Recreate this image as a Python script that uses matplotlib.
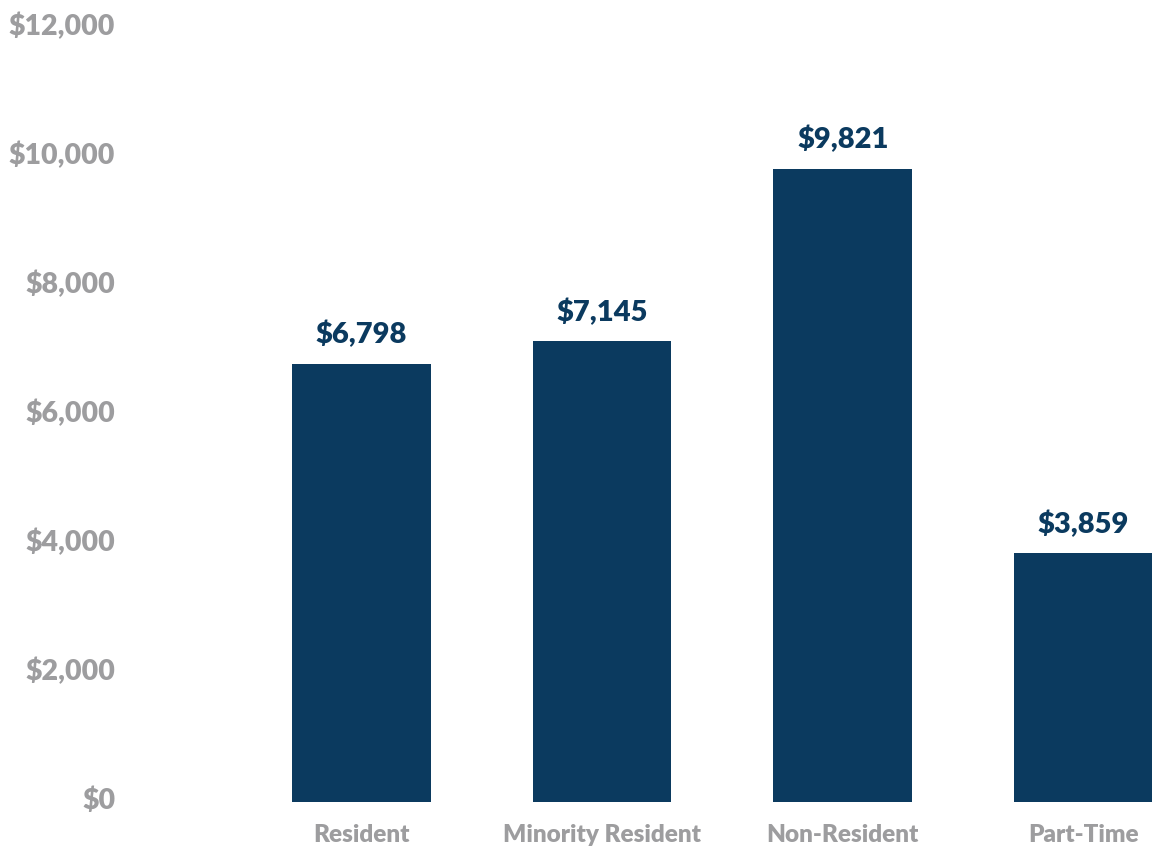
import matplotlib
matplotlib.use("Agg")
import matplotlib.pyplot as plt
import matplotlib.transforms as mtransforms
from matplotlib.ticker import FuncFormatter

categories = ["Resident", "Minority Resident", "Non-Resident", "Part-Time"]
values = [6798, 7145, 9821, 3859]
yticks = [0, 2000, 4000, 6000, 8000, 10000, 12000]

navy = "#0b3a5f"
gray = "#9d9d9f"

plt.rcParams['font.family'] = ['Lato', 'DejaVu Sans']

W, H = 1152, 848
fig = plt.figure(figsize=(W / 100, H / 100), dpi=100)
left_px, right_px, bottom_px, top_px = 125, 1152, 46, 28
ax = fig.add_axes([left_px / W, bottom_px / H, (right_px - left_px) / W, (H - bottom_px - top_px) / H])

x = list(range(len(categories)))
bars = ax.bar(x, values, width=0.577, color=navy)

for xi, v in zip(x, values):
    ax.annotate(f"${v:,.0f}", (xi, v), xytext=(0, 11), textcoords="offset points",
                ha="center", va="bottom", fontsize=21, fontweight="heavy", color=navy)

ax.set_xlim(-0.981, 3.284)
ax.set_ylim(0, 12000)
ax.set_yticks(yticks)
ax.yaxis.set_major_formatter(FuncFormatter(lambda v, p: f"${v:,.0f}"))
ax.set_xticks(x)
ax.set_xticklabels(categories)

for s in ax.spines.values():
    s.set_visible(False)
ax.tick_params(axis="both", length=0)
ax.tick_params(axis="y", pad=7, labelsize=20.5, labelcolor=gray)
ax.tick_params(axis="x", pad=16, labelsize=17.5, labelcolor=gray)
up = mtransforms.ScaledTranslation(0, 4 / 100, fig.dpi_scale_trans)
for lab in ax.get_yticklabels():
    lab.set_fontweight("heavy")
    lab.set_transform(lab.get_transform() + up)
for lab in ax.get_xticklabels():
    lab.set_fontweight("heavy")

fig.savefig("out.png", dpi=100)
